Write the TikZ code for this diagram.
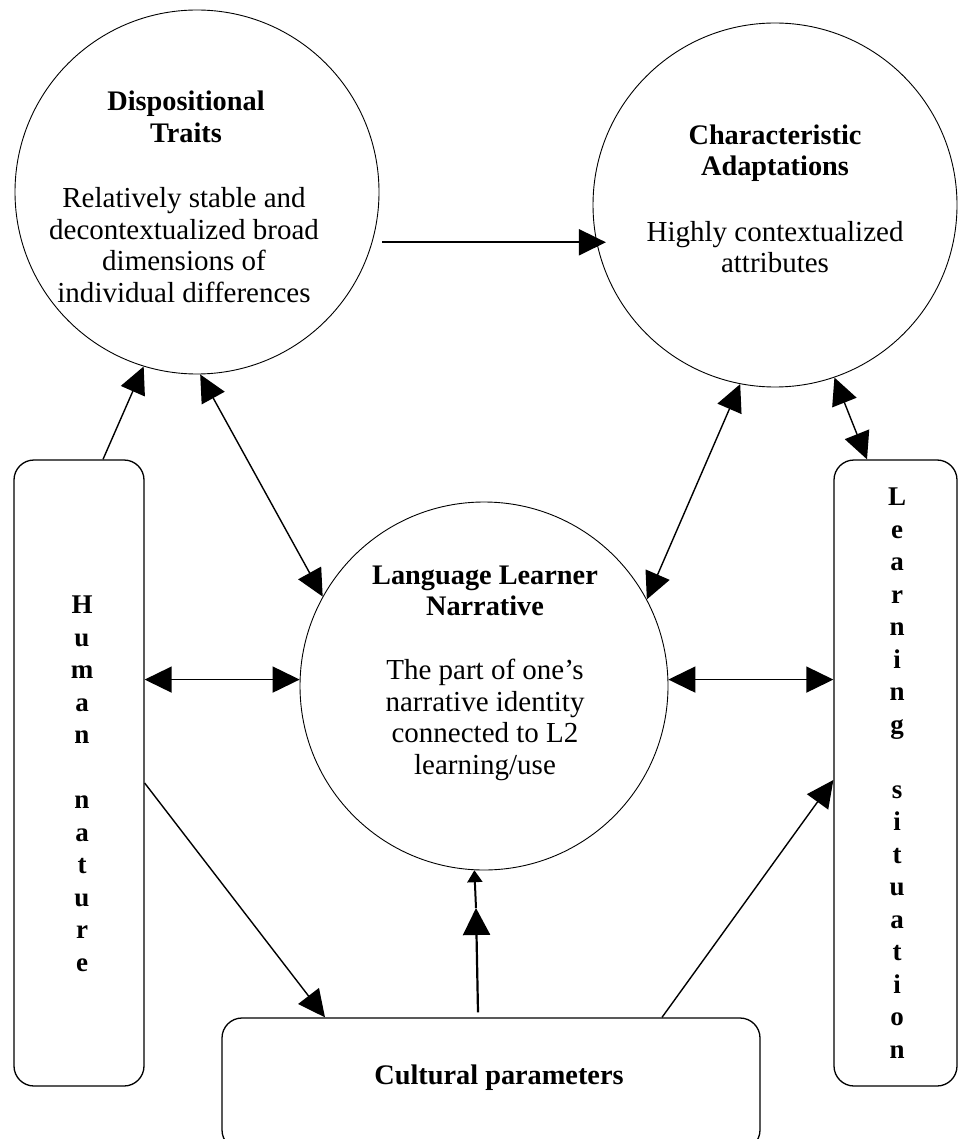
\documentclass[tikz,border=0pt]{standalone}
\usepackage{fontspec}
\setmainfont{Liberation Serif}
\usetikzlibrary{arrows.meta}
\begin{document}
\begin{tikzpicture}[x=1pt,y=-1pt,
  ring/.style={circle, draw, line width=0.9pt, minimum size=364pt, inner sep=0pt},
  panel/.style={draw, line width=1.3pt, rounded corners=20pt, inner sep=0pt},
  head/.style={font=\fontsize{28.3}{31.5}\selectfont\bfseries, align=center, inner sep=0pt},
  body/.style={font=\fontsize{29}{31.5}\selectfont, align=center, inner sep=0pt},
  vert/.style={font=\fontsize{27}{32.5}\selectfont\bfseries, align=center, inner sep=0pt},
  link/.style={line width=1.4pt, -{Triangle[length=27pt,width=26pt]}},
  both/.style={line width=1.4pt, {Triangle[length=27pt,width=26pt]}-{Triangle[length=27pt,width=26pt]}},
]
\useasboundingbox (0,0) rectangle (958,1139);

% the three circles
\node[ring] (dt) at (197,192) {};
\node[ring] (ca) at (775,205) {};
\node[ring, minimum size=368pt] (lln) at (484,686) {};

% the three boxes
\node[panel, minimum width=130pt, minimum height=626pt] (hn) at (79,773) {};
\node[panel, minimum width=123pt, minimum height=626pt] (ls) at (895.5,773) {};
\node[panel, minimum width=538pt, minimum height=132pt] (cp) at (491,1084) {};

% texts of the circles
\node[head] (dtT) at (186,117) {Dispositional\\Traits};
\node[body] (dtB) at (184,245) {Relatively stable and\\decontextualized broad\\dimensions of\\individual differences};
\node[head] (caT) at (775,153) {Characteristic\\Adaptations};
\node[body] (caB) at (775,247) {Highly contextualized\\attributes};
\node[head] (llnT) at (485,591) {Language Learner\\Narrative};
\node[body] (llnB) at (485,720) {The part of one’s\\narrative identity\\connected to L2\\learning/use};

% texts of the boxes
\node[vert] (hnT) at (82,784) {H\\u\\m\\a\\n\\[32.5pt]n\\a\\t\\u\\r\\e};
\node[vert] (lsT) at (897,773) {L\\e\\a\\r\\n\\i\\n\\g\\[32.5pt]s\\i\\t\\u\\a\\t\\i\\o\\n};
\node[head] (cpT) at (499,1078) {Cultural parameters};

% connectors
\draw[link, line width=2pt] ([xshift=10pt]dt.-16) -- ([xshift=10pt]dt.-16 -| ca.191.7);
\draw[link] ([xshift=24pt]hn.north) -- (dt.253);
\draw[both] (dt.271) -- (lln.151.6);
\draw[both] (ca.259.8) -- (lln.28.1);
\draw[both] (ca.289.7) -- ([xshift=-28.5pt]ls.north);
\draw[both] (lln.178 -| hn.east) -- (lln.178);
\draw[both] (lln.2) -- (lln.2 -| ls.west);
\draw[link] ([yshift=-10pt]hn.east) -- ([xshift=-166pt]cp.north);
\draw[link] ([xshift=171pt]cp.north) -- ([yshift=-7pt]ls.west);

% the upward connector with two heads
\coordinate (midhead) at (476,908);
\draw[line width=2.2pt, -{Triangle[length=27pt,width=27pt]}] ([xshift=-13pt,yshift=5pt]cp.north) -- (midhead);
\draw[line width=2pt, -{Triangle[length=12pt,width=15pt]}] (midhead) -- (lln.267);
\end{tikzpicture}
\end{document}
